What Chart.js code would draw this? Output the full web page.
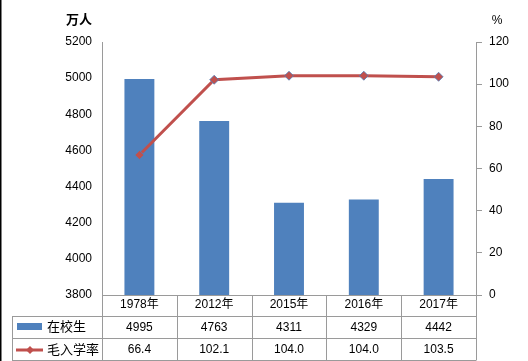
<!DOCTYPE html>
<html>
<head>
<meta charset="utf-8">
<script src="https://cdn.jsdelivr.net/npm/chart.js@4/dist/chart.umd.min.js"></script>
<style>
  html, body { margin: 0; padding: 0; background: #fff; }
  #wrap { width: 528px; height: 361px; position: relative; }
</style>
</head>
<body>
<div id="wrap"><canvas id="chart"></canvas></div>
<script>
const years = ['1978年', '2012年', '2015年', '2016年', '2017年'];
const students = [4995, 4763, 4311, 4329, 4442];
const enrolRate = [66.4, 102.1, 104.0, 104.0, 103.5];
const studentLabels = ['4995', '4763', '4311', '4329', '4442'];
const rateLabels = ['66.4', '102.1', '104.0', '104.0', '103.5'];

const FONT = '"Liberation Sans", "Noto Sans CJK SC", sans-serif';
const GRID = '#9a9a9a';
const BLUE = '#4F81BD';
const RED = '#C0504D';

// data table under the plot, drawn from the x scale
const tablePlugin = {
    id: 'table',
    afterDraw(chart) {
        const ctx = chart.ctx;
        const x = chart.scales.x;
        const area = chart.chartArea;
        const left = area.left, right = area.right, bottom = area.bottom;
        const rows = [bottom, 316, 338, 360];
        const tableLeft = 12;
        const step = x.getPixelForValue(1) - x.getPixelForValue(0);

        ctx.save();
        ctx.strokeStyle = GRID;
        ctx.lineWidth = 1;
        ctx.beginPath();
        ctx.moveTo(left, rows[0] + 0.5); ctx.lineTo(right, rows[0] + 0.5);
        for (let i = 1; i < rows.length; i++) {
            ctx.moveTo(tableLeft, rows[i] + 0.5); ctx.lineTo(right, rows[i] + 0.5);
        }
        ctx.moveTo(tableLeft + 0.5, rows[1]); ctx.lineTo(tableLeft + 0.5, rows[3] + 0.5);
        for (let i = 0; i <= years.length; i++) {
            const px = Math.round(left + i * step) + 0.5;
            ctx.moveTo(px, rows[0]); ctx.lineTo(px, rows[3] + 0.5);
        }
        ctx.stroke();

        ctx.fillStyle = '#000';
        ctx.font = '12px ' + FONT;
        ctx.textAlign = 'center';
        ctx.textBaseline = 'middle';
        years.forEach((y, i) => {
            const cx = x.getPixelForValue(i);
            ctx.fillText(y, cx, 305);
            ctx.fillText(studentLabels[i], cx, 327.5);
            ctx.fillText(rateLabels[i], cx, 350);
        });

        // legend keys
        ctx.fillStyle = BLUE;
        ctx.fillRect(17, 323, 25, 7);
        ctx.strokeStyle = RED;
        ctx.lineWidth = 3;
        ctx.beginPath();
        ctx.moveTo(16, 350); ctx.lineTo(43, 350);
        ctx.stroke();
        ctx.fillStyle = RED;
        ctx.beginPath();
        ctx.moveTo(30, 346); ctx.lineTo(34, 350); ctx.lineTo(30, 354); ctx.lineTo(26, 350);
        ctx.closePath();
        ctx.fill();
        ctx.fillStyle = '#000';
        ctx.textAlign = 'left';
        ctx.font = '13px ' + FONT;
        ctx.fillText('在校生', 47, 327.5);
        ctx.fillText('毛入学率', 47, 350);

        // axis titles
        ctx.font = 'bold 13px ' + FONT;
        ctx.textAlign = 'center';
        ctx.fillText('万人', 79, 20);
        ctx.font = '12px ' + FONT;
        ctx.fillText('%', 497, 21);

        ctx.fillStyle = '#000';
        ctx.fillRect(0, 0, 1.5, 361);
        ctx.restore();
    }
};

new Chart(document.getElementById('chart'), {
    data: {
        labels: years,
        datasets: [{
            type: 'line',
            label: '毛入学率',
            data: enrolRate,
            yAxisID: 'y1',
            borderColor: RED,
            borderWidth: 3,
            pointStyle: 'rectRot',
            pointRadius: 4.5,
            pointBackgroundColor: RED,
            pointBorderColor: 'rgba(79,129,189,0.8)',
            pointBorderWidth: 1,
            clip: false,
            order: 0
        }, {
            type: 'bar',
            label: '在校生',
            data: students,
            yAxisID: 'y',
            backgroundColor: BLUE,
            categoryPercentage: 1,
            barPercentage: 0.4,
            order: 1
        }]
    },
    options: {
        responsive: true,
        maintainAspectRatio: false,
        animation: false,
        layout: { padding: { top: 42, bottom: 66, left: 0, right: 0 } },
        plugins: { legend: { display: false }, tooltip: { enabled: false } },
        scales: {
            x: { display: false, offset: true },
            y: {
                position: 'left',
                min: 3800, max: 5200,
                afterFit(s) { s.width = 102; },
                grid: { display: true, drawOnChartArea: false, drawTicks: false },
                border: { color: GRID },
                ticks: { stepSize: 200, padding: 10, color: '#000', font: { family: FONT, size: 12 },
                         callback: v => String(v) }
            },
            y1: {
                position: 'right',
                min: 0, max: 120,
                afterFit(s) { s.width = 52; },
                grid: { drawOnChartArea: false, drawTicks: true, tickLength: 6, color: GRID },
                border: { color: GRID },
                ticks: { stepSize: 20, padding: 7, color: '#000', font: { family: FONT, size: 12 },
                         callback: v => String(v) }
            }
        }
    },
    plugins: [tablePlugin]
});
</script>
</body>
</html>
